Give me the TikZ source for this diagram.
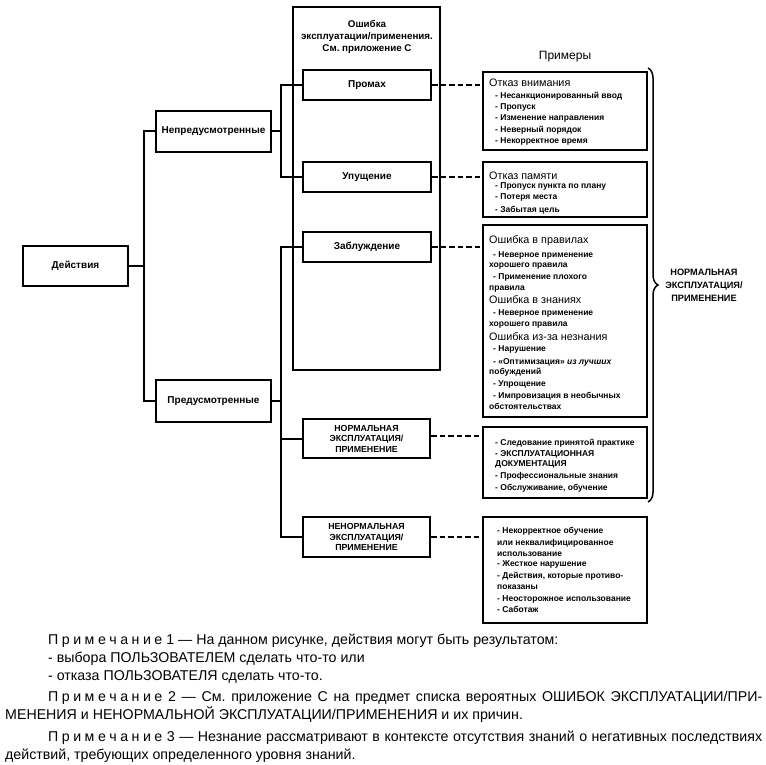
\documentclass[tikz,border=0pt]{standalone}
\usepackage{fontspec}
\setmainfont{Liberation Sans}
\newfontfamily\notefont{Liberation Sans}
\usetikzlibrary{decorations.pathreplacing}
\frenchspacing
\newcommand\lsp{\kern3.5pt}
\newcommand\primech{П\lsp р\lsp и\lsp м\lsp е\lsp ч\lsp а\lsp н\lsp и\lsp е}
\tikzset{
  box/.style={draw, line width=2pt, inner sep=0pt, align=center, fill=white,
    font=\bfseries\fontsize{10}{12}\selectfont},
  capbox/.style={box, font=\bfseries\fontsize{8.8}{10.5}\selectfont},
  exbox/.style={draw, line width=2pt, inner sep=0pt},
  conn/.style={line width=2pt},
  dconn/.style={line width=1.8pt, dash pattern=on 5.5pt off 3pt},
  itm/.style={anchor=base west, inner sep=0pt, font=\bfseries\fontsize{8.5}{10}\selectfont},
  hd/.style={anchor=base west, inner sep=0pt, font=\fontsize{10.8}{12}\selectfont},
  note/.style={anchor=base west, inner sep=0pt, font=\notefont\fontsize{14.2}{17}\selectfont}
}
\begin{document}
\begin{tikzpicture}[x=1pt,y=-1pt]
\useasboundingbox (0,0) rectangle (766,765);
% big frame
\node[draw, line width=2pt, inner sep=0pt, minimum width=147pt, minimum height=363pt] (big) at (366.5,188.5) {};
\node[align=center, inner sep=0pt, font=\bfseries\fontsize{9.8}{12}\selectfont] (bigt) at (367,37) {Ошибка\\эксплуатации/применения.\\См. приложение С};
% coordinates of the vertical trunks
\coordinate (tr) at (144,0);
\coordinate (br) at (280.5,0);
% left boxes
\node[box, minimum width=105pt, minimum height=40pt] (act) at (75.5,266) {Действия};
\node[box, minimum width=115pt, minimum height=41pt] (unf) at (213.5,131.5) {Непредусмотренные};
\node[box, minimum width=115pt, minimum height=42pt] (pre) at (213.5,401) {Предусмотренные};
% inner boxes
\node[box, minimum width=128pt, minimum height=30pt] (slip) at (367,85) {Промах};
\node[box, minimum width=128pt, minimum height=30pt] (lapse) at (367,177) {Упущение};
\node[box, minimum width=128pt, minimum height=30pt] (mist) at (367,247) {Заблуждение};
\node[capbox, minimum width=127pt, minimum height=39pt] (norm) at (366.5,438.5) {НОРМАЛЬНАЯ\\ЭКСПЛУАТАЦИЯ/\\ПРИМЕНЕНИЕ};
\node[capbox, minimum width=127pt, minimum height=40pt] (abn) at (366.5,537) {НЕНОРМАЛЬНАЯ\\ЭКСПЛУАТАЦИЯ/\\ПРИМЕНЕНИЕ};
% example boxes
\node[exbox, minimum width=164pt, minimum height=78pt] (ex1) at (565,111) {};
\node[exbox, minimum width=164pt, minimum height=55pt] (ex2) at (565,189.5) {};
\node[exbox, minimum width=164pt, minimum height=192pt] (ex3) at (565,321) {};
\node[exbox, minimum width=164pt, minimum height=71pt] (ex4) at (565,462.5) {};
\node[exbox, minimum width=164pt, minimum height=106pt] (ex5) at (565,570) {};
\node[font=\fontsize{12}{14}\selectfont, inner sep=0pt] (exh) at (565,57) {Примеры};
% connectors
\draw[conn] (act.east) -- (act.east -| tr);
\draw[conn] (unf.west) -- (unf.west -| tr) -- (pre.west -| tr) -- (pre.west);
\draw[conn] (unf.east) -- (unf.east -| br);
\draw[conn] (slip.west) -- (slip.west -| br) -- (lapse.west -| br) -- (lapse.west);
\draw[conn] (pre.east) -- (pre.east -| br);
\draw[conn] (mist.west) -- (mist.west -| br) -- (abn.west -| br) -- (abn.west);
\draw[conn] (norm.west -| br) -- (norm.west);
\draw[dconn] (slip.east) -- (slip.east -| ex1.west);
\draw[dconn] (lapse.east) -- (lapse.east -| ex2.west);
\draw[dconn] (mist.east) -- (mist.east -| ex3.west);
\draw[dconn] ([yshift=2.5pt]norm.east) -- ([yshift=2.5pt]norm.east -| ex4.west);
\draw[dconn] (abn.east) -- (abn.east -| ex5.west);
% box 1
\node[hd] (h1) at (489,87) {Отказ внимания};
\node[itm] (a1) at (495,99) {- Несанкционированный ввод};
\node[itm] (a2) at (495,110) {- Пропуск};
\node[itm] (a3) at (495,121) {- Изменение направления};
\node[itm] (a4) at (495,133) {- Неверный порядок};
\node[itm] (a5) at (495,144) {- Некорректное время};
% box 2
\node[hd] (h2) at (489,179) {Отказ памяти};
\node[itm] (b1) at (495,189) {- Пропуск пункта по плану};
\node[itm] (b2) at (495,200) {- Потеря места};
\node[itm] (b3) at (495,212) {- Забытая цель};
% box 3
\node[hd] (h3) at (489,243.5) {Ошибка в правилах};
\node[itm] (c1) at (493,257) {- Неверное применение};
\node[itm] (c2) at (489,267) {хорошего правила};
\node[itm] (c3) at (493,279) {- Применение плохого};
\node[itm] (c4) at (489,290) {правила};
\node[hd] (h4) at (489,303.5) {Ошибка в знаниях};
\node[itm] (c5) at (493,315) {- Неверное применение};
\node[itm] (c6) at (489,326) {хорошего правила};
\node[hd] (h5) at (489,340.5) {Ошибка из-за незнания};
\node[itm] (c7) at (493,351) {- Нарушение};
\node[itm] (c8) at (493,364) {- «Оптимизация» {\itshape из лучших}};
\node[itm] (c9) at (489,374) {побуждений};
\node[itm] (c10) at (493,386) {- Упрощение};
\node[itm] (c11) at (493,398) {- Импровизация в необычных};
\node[itm] (c12) at (489,409) {обстоятельствах};
% box 4
\node[itm] (d1) at (495,445) {- Следование принятой практике};
\node[itm] (d2) at (495,456) {- ЭКСПЛУАТАЦИОННАЯ};
\node[itm] (d3) at (495,466) {ДОКУМЕНТАЦИЯ};
\node[itm] (d4) at (495,478) {- Профессиональные знания};
\node[itm] (d5) at (495,490) {- Обслуживание, обучение};
% box 5
\node[itm] (e1) at (497,533) {- Некорректное обучение};
\node[itm] (e2) at (497,545) {или неквалифицированное};
\node[itm] (e3) at (497,556) {использование};
\node[itm] (e4) at (497,566) {- Жесткое нарушение};
\node[itm] (e5) at (497,578) {- Действия, которые противо-};
\node[itm] (e6) at (497,589) {показаны};
\node[itm] (e7) at (497,601) {- Неосторожное использование};
\node[itm] (e8) at (497,612) {- Саботаж};
% brace
\coordinate (bt) at (648,68);
\coordinate (bb) at (648,502);
\draw[line width=1.5pt, decorate, decoration={brace, amplitude=10pt}] (bt) -- (bb);
\node[align=center, inner sep=0pt, font=\bfseries\fontsize{9.2}{13}\selectfont] (blab) at (704,285) {НОРМАЛЬНАЯ\\ЭКСПЛУАТАЦИЯ/\\ПРИМЕНЕНИЕ};
% notes
\node[note] (n1) at (48,644.5) {\primech\ 1 — На данном рисунке, действия могут быть результатом:};
\node[note] (n2) at (48,662.5) {- выбора ПОЛЬЗОВАТЕЛЕМ сделать что-то или};
\node[note] (n3) at (48,680.5) {- отказа ПОЛЬЗОВАТЕЛЯ сделать что-то.};
\node[note] (n4) at (48,701.5) {\hbox to 714pt{\primech\ 2 — См. приложение С на предмет списка вероятных ОШИБОК ЭКСПЛУАТАЦИИ/ПРИ-}};
\node[note] (n5) at (5,719.5) {МЕНЕНИЯ и НЕНОРМАЛЬНОЙ ЭКСПЛУАТАЦИИ/ПРИМЕНЕНИЯ и их причин.};
\node[note] (n6) at (48,741.5) {\hbox to 714pt{\primech\ 3 — Незнание рассматривают в контексте отсутствия знаний о негативных последствиях}};
\node[note] (n7) at (5,759.5) {действий, требующих определенного уровня знаний.};
\end{tikzpicture}
\end{document}
